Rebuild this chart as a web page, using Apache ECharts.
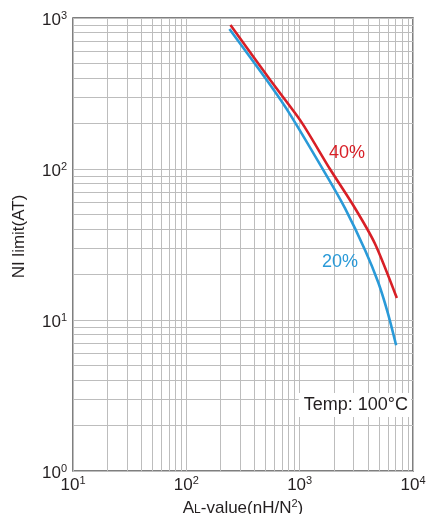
<!DOCTYPE html>
<html>
<head>
<meta charset="utf-8">
<script src="https://cdn.jsdelivr.net/npm/echarts@6/dist/echarts.min.js"></script>
<style>
  html, body { margin: 0; padding: 0; background: #fff; }
  #chart { width: 430px; height: 514px; }
</style>
</head>
<body>
<div id="chart"></div>
<script>
// NI limit (AT) against AL-value (nH/N²), log–log, at 100 °C
const al40 = [245, 550, 1030, 1850, 3080, 4620, 7200];
const ni40 = [900, 388, 206, 100, 55, 32, 14];
const al20 = [240, 550, 820, 1780, 2510, 3780, 4940, 6000, 7100];
const ni20 = [845, 360, 231, 87, 55, 29, 17.7, 11.1, 6.8];

const seriesNames = ['40%', '20%'];
const xDecades = [10, 100, 1000];
const yDecades = [1, 10, 100];
const minorSteps = [2, 3, 4, 5, 6, 7, 8, 9];
const tempNote = 'Temp: 100°C';

const FONT = '"Liberation Sans", Arial, Helvetica, sans-serif';
const TEXT = '#231f20';
const GRID = '#bdbdbd';
const RED = '#d81f26';
const BLUE = '#2a9ad8';

// grid lines at 2..9 within every decade
const xMinor = [];
xDecades.forEach(d => minorSteps.forEach(m => xMinor.push(d * m)));
const yMinor = [];
yDecades.forEach(d => minorSteps.forEach(m => yMinor.push(d * m)));

const powRich = {
  b: { fontSize: 17, fontFamily: FONT, color: TEXT, lineHeight: 20 },
  s: { fontSize: 11, fontFamily: FONT, color: TEXT, verticalAlign: 'top', lineHeight: 12 }
};
const powLabel = v => '{b|10}{s|' + Math.round(Math.log10(v)) + '}';

const chart = echarts.init(document.getElementById('chart'), null, { renderer: 'canvas' });

chart.setOption({
  animation: false,
  backgroundColor: '#fff',
  title: {
    text: tempNote,
    right: 19,
    top: 393,
    padding: [3, 3, 3, 5],
    backgroundColor: '#fff',
    textStyle: { fontSize: 18, fontWeight: 'normal', color: TEXT, fontFamily: FONT }
  },
  grid: {
    left: 73, right: 17, top: 18, bottom: 43,
    outerBoundsMode: 'none',
    containLabel: false,
    show: true, borderColor: '#555', borderWidth: 1.5, backgroundColor: '#fff'
  },
  xAxis: {
    type: 'log', logBase: 10, min: 10, max: 10000,
    axisLine: { show: false },
    axisTick: { show: false },
    splitLine: { show: true, lineStyle: { color: GRID, width: 1 } },
    axisLabel: { margin: 4, formatter: powLabel, rich: powRich, showMinLabel: true, showMaxLabel: true },
    name: '{a|A}{l|L}{a|-value(nH/N}{s|2}{a|)}',
    nameLocation: 'middle',
    nameGap: 24,
    nameTextStyle: {
      rich: {
        a: { fontSize: 17, fontFamily: FONT, color: TEXT, lineHeight: 20 },
        l: { fontSize: 12, fontFamily: FONT, color: TEXT, verticalAlign: 'bottom', lineHeight: 20, padding: [0, 0, 3, 0] },
        s: { fontSize: 11, fontFamily: FONT, color: TEXT, verticalAlign: 'top', lineHeight: 12 }
      }
    }
  },
  yAxis: {
    type: 'log', logBase: 10, min: 1, max: 1000,
    axisLine: { show: false },
    axisTick: { show: false },
    splitLine: { show: true, lineStyle: { color: GRID, width: 1 } },
    axisLabel: { margin: 6, padding: [5, 0, 0, 0], formatter: powLabel, rich: powRich, showMinLabel: true, showMaxLabel: true },
    name: 'NI limit(AT)',
    nameLocation: 'middle',
    nameGap: 45,
    nameTextStyle: { fontSize: 17, fontFamily: FONT, color: TEXT, padding: [0, 0, 0, 16] }
  },
  series: [
    {
      name: 'minor-grid',
      type: 'line',
      data: [],
      silent: true,
      z: 1,
      markLine: {
        z: 1,
        silent: true,
        symbol: ['none', 'none'],
        label: { show: false },
        lineStyle: { color: GRID, width: 1, type: 'solid' },
        emphasis: { disabled: true },
        data: xMinor.map(v => ({ xAxis: v })).concat(yMinor.map(v => ({ yAxis: v })))
      }
    },
    {
      name: seriesNames[0],
      type: 'line',
      z: 6,
      smooth: 0.25,
      showSymbol: false,
      lineStyle: { color: RED, width: 2.6 },
      itemStyle: { color: RED },
      data: al40.map((x, i) => [x, ni40[i]]),
      markPoint: {
        z: 6,
        symbol: 'circle', symbolSize: 0,
        label: { show: true, position: 'inside', formatter: seriesNames[0], fontSize: 18, fontFamily: FONT, color: RED },
        data: [{ coord: [2620, 128] }]
      }
    },
    {
      name: seriesNames[1],
      type: 'line',
      z: 6,
      smooth: 0.25,
      showSymbol: false,
      lineStyle: { color: BLUE, width: 2.6 },
      itemStyle: { color: BLUE },
      data: al20.map((x, i) => [x, ni20[i]]),
      markPoint: {
        z: 6,
        symbol: 'circle', symbolSize: 0,
        label: { show: true, position: 'inside', formatter: seriesNames[1], fontSize: 18, fontFamily: FONT, color: BLUE },
        data: [{ coord: [2270, 24.2] }]
      }
    }
  ]
});
</script>
</body>
</html>
